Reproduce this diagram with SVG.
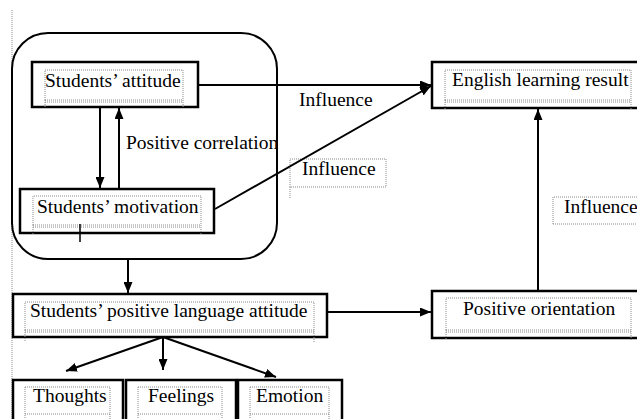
<svg xmlns="http://www.w3.org/2000/svg" width="637" height="419" viewBox="0 0 637 419">
<style>
.box{fill:#fff;stroke:#000;stroke-width:2.5}
.grp{fill:none;stroke:#000;stroke-width:2}
.dot{fill:none;stroke:#8a8a8a;stroke-width:1;stroke-dasharray:1 1}
.t{font-family:"Liberation Serif","Times New Roman",serif;font-size:19.5px;fill:#000}
.c{fill:none;stroke:#000;stroke-width:2}
</style>
<defs>
<marker id="a" viewBox="0 0 11 9" refX="11" refY="4.5" markerWidth="11" markerHeight="9" markerUnits="userSpaceOnUse" orient="auto"><path d="M0,0 L11,4.5 L0,9 Z" fill="#000"/></marker>
</defs>
<rect width="637" height="419" fill="#fff"/>
<line x1="12" y1="10" x2="12" y2="419" class="dot"/>

<g id="group-box"><rect x="12" y="33" width="265" height="226" rx="36" class="grp"/></g>

<g id="attitude">
<rect x="32" y="62" width="166" height="45" class="box"/>
<path d="M45,100 V70 H183 V108 M45,100 V108 M45,100 H183 M45,102 H183" class="dot"/>
<text x="45" y="87" class="t">Students’ attitude</text>
</g>

<g id="motivation">
<rect x="20" y="189" width="194" height="44" class="box"/>
<path d="M33,225 V196 H201 V235 M33,225 V235 M33,225 H201 M33,227 H201" class="dot"/>
<text x="37" y="213" class="t">Students’ motivation</text>
<line x1="80" y1="224" x2="80" y2="242" stroke="#000" stroke-width="1.5"/>
</g>

<g id="english">
<rect x="432" y="62" width="215" height="46" class="box"/>
<path d="M445,100 V70 H631 V110 M445,100 V110 M445,100 H631 M445,102 H631" class="dot"/>
<text x="452" y="86" class="t">English learning result</text>
</g>

<g id="lang-attitude">
<rect x="13" y="294" width="314" height="43" class="box"/>
<path d="M25,330 V302 H314 V342 M25,330 V342 M25,330 H314 M25,332 H314" class="dot"/>
<text x="30" y="317" class="t">Students’ positive language attitude</text>
</g>

<g id="orientation">
<rect x="432" y="291" width="215" height="47" class="box"/>
<path d="M446,330 V298 H631 V340 M446,330 V340 M446,330 H631 M446,332 H631" class="dot"/>
<text x="463" y="315" class="t">Positive orientation</text>
</g>

<g id="thoughts">
<rect x="13" y="380" width="110" height="60" class="box"/>
<path d="M25,387 H110 V430 M25,387 V430 M25,414 H110" class="dot"/>
<text x="33" y="402" class="t">Thoughts</text>
</g>
<g id="feelings">
<rect x="126" y="380" width="110" height="60" class="box"/>
<path d="M138,387 H222 V430 M138,387 V430 M138,414 H222" class="dot"/>
<text x="148" y="402" class="t">Feelings</text>
</g>
<g id="emotion">
<rect x="238" y="380" width="104" height="60" class="box"/>
<path d="M250,387 H329 V430 M250,387 V430 M250,414 H329" class="dot"/>
<text x="256" y="402" class="t">Emotion</text>
</g>

<g id="label-influence2">
<path d="M290,187 V159 H386 V187 H290 M290,187 V199" class="dot"/>
<text x="302" y="175" class="t">Influence</text>
</g>
<g id="label-influence3">
<path d="M553,224 V197 H645 M553,224 H645" class="dot"/>
<text x="564" y="213" class="t">Influence</text>
</g>

<g id="connectors">
<line x1="100" y1="108" x2="100" y2="188" class="c" marker-end="url(#a)"/>
<line x1="119" y1="189" x2="119" y2="108" class="c" marker-end="url(#a)"/>
<line x1="198" y1="85" x2="431" y2="85" class="c" marker-end="url(#a)"/>
<line x1="215" y1="209" x2="431" y2="86" class="c" marker-end="url(#a)"/>
<line x1="128" y1="259" x2="128" y2="293" class="c" marker-end="url(#a)"/>
<line x1="327" y1="312" x2="431" y2="312" class="c" marker-end="url(#a)"/>
<line x1="538" y1="291" x2="538" y2="109" class="c" marker-end="url(#a)"/>
<line x1="163" y1="337" x2="66" y2="371" class="c" marker-end="url(#a)"/>
<line x1="163" y1="337" x2="163" y2="370" class="c" marker-end="url(#a)"/>
<line x1="163" y1="337" x2="276" y2="377" class="c" marker-end="url(#a)"/>
<text x="126" y="149" class="t">Positive correlation</text>
<text x="299" y="106" class="t">Influence</text>
</g>
</svg>
